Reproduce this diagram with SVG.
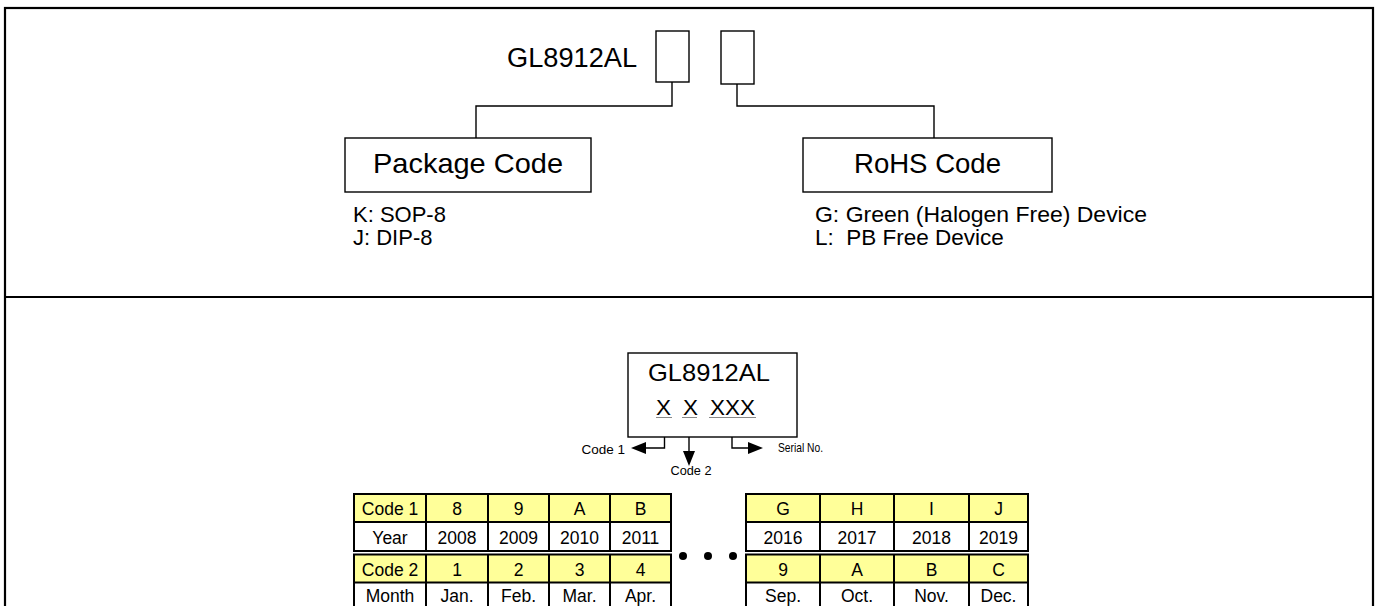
<svg xmlns="http://www.w3.org/2000/svg" width="1383" height="606" viewBox="0 0 1383 606">
<defs>
<style>
text{font-family:"Liberation Sans",Arial,sans-serif;fill:#000}
.box{fill:#fff;stroke:#000;stroke-width:1.4}
.ln{fill:none;stroke:#000;stroke-width:1.4}
.frame{fill:none;stroke:#000;stroke-width:2.2}
.tb{fill:none;stroke:#000;stroke-width:2}
.y{fill:#FFFF99}
.w{fill:#fff}
.ul{stroke:#888;stroke-width:1}
.c{text-anchor:middle;font-size:17.5px}
.s{font-size:13.5px}
.ah{fill:#000}
</style>
</defs>
<rect x="0" y="0" width="1383" height="606" fill="#fff"/>
<g id="frame">
<rect class="frame" x="5" y="8" width="1368" height="620"/>
<line class="frame" x1="5" y1="297" x2="1373" y2="297"/>
</g>

<g id="part-number">
<text x="507" y="67" font-size="27" textLength="130" lengthAdjust="spacingAndGlyphs">GL8912AL</text>
<rect class="box" x="656" y="31" width="33" height="51"/>
<rect class="box" x="721" y="31" width="33" height="53"/>
</g>

<g id="connectors">
<path class="ln" d="M672 82V106H476V138"/>
<path class="ln" d="M737 84V106H934V138"/>
<path class="ln" d="M664.5 417V448H645"/>
<polygon class="ah" points="631,448 646,442 646,454"/>
<path class="ln" d="M689 417V453"/>
<polygon class="ah" points="689,466 683,451 695,451"/>
<path class="ln" d="M732 417V448H750"/>
<polygon class="ah" points="763,448 748,442 748,454"/>
</g>

<g id="package-code">
<rect class="box" x="345" y="138" width="246" height="54"/>
<text x="468" y="173" font-size="28" text-anchor="middle" textLength="190" lengthAdjust="spacingAndGlyphs">Package Code</text>
<text x="353" y="221.5" font-size="22">K: SOP-8</text>
<text x="353" y="245" font-size="22">J: DIP-8</text>
</g>

<g id="rohs-code">
<rect class="box" x="803" y="138" width="249" height="54"/>
<text x="927.5" y="173" font-size="27.5" text-anchor="middle" textLength="147" lengthAdjust="spacingAndGlyphs">RoHS Code</text>
<text x="815" y="221.5" font-size="22.5" textLength="332" lengthAdjust="spacingAndGlyphs">G: Green (Halogen Free) Device</text>
<text x="815" y="245" font-size="22.5" xml:space="preserve">L:  PB Free Device</text>
</g>

<g id="marking">
<rect class="box" x="628" y="353" width="169" height="84"/>
<text x="648" y="381" font-size="24.5" textLength="122" lengthAdjust="spacingAndGlyphs">GL8912AL</text>
<text x="656" y="415" font-size="22.5">X</text>
<text x="683" y="415" font-size="22.5">X</text>
<text x="710" y="415" font-size="22.5" textLength="45" lengthAdjust="spacingAndGlyphs">XXX</text>
<line class="ul" x1="656" y1="417.5" x2="672" y2="417.5"/>
<line class="ul" x1="682" y1="417.5" x2="697" y2="417.5"/>
<line class="ul" x1="709" y1="417.5" x2="756" y2="417.5"/>
</g>

<g id="labels">
<text class="s" x="625" y="454" text-anchor="end">Code 1</text>
<text class="s" x="691" y="475" text-anchor="middle" textLength="41" lengthAdjust="spacingAndGlyphs">Code 2</text>
<text class="s" x="778" y="452" textLength="45" lengthAdjust="spacingAndGlyphs">Serial No.</text>
</g>

<g id="table-left">
<rect class="y" x="354" y="494" width="317" height="28"/>
<rect class="w" x="354" y="522" width="317" height="29"/>
<rect class="y" x="354" y="554.5" width="317" height="28"/>
<rect class="w" x="354" y="582.5" width="317" height="30"/>
<rect class="tb" x="354" y="494" width="317" height="57"/>
<rect class="tb" x="354" y="554.5" width="317" height="58"/>
<path class="tb" d="M354 522H671M354 582.5H671M426 494V551M488 494V551M549 494V551M610 494V551M426 554.5V612M488 554.5V612M549 554.5V612M610 554.5V612"/>
<text class="c" x="390" y="515">Code 1</text>
<text class="c" x="457" y="515">8</text>
<text class="c" x="518.5" y="515">9</text>
<text class="c" x="579.5" y="515">A</text>
<text class="c" x="640.5" y="515">B</text>
<text class="c" x="390" y="544">Year</text>
<text class="c" x="457" y="544">2008</text>
<text class="c" x="518.5" y="544">2009</text>
<text class="c" x="579.5" y="544">2010</text>
<text class="c" x="640.5" y="544">2011</text>
<text class="c" x="390" y="576">Code 2</text>
<text class="c" x="457" y="576">1</text>
<text class="c" x="518.5" y="576">2</text>
<text class="c" x="579.5" y="576">3</text>
<text class="c" x="640.5" y="576">4</text>
<text class="c" x="390" y="602">Month</text>
<text class="c" x="457" y="602">Jan.</text>
<text class="c" x="518.5" y="602">Feb.</text>
<text class="c" x="579.5" y="602">Mar.</text>
<text class="c" x="640.5" y="602">Apr.</text>
</g>

<g id="ellipsis">
<circle cx="683" cy="556" r="4"/>
<circle cx="708" cy="556" r="4"/>
<circle cx="733" cy="556" r="4"/>
</g>

<g id="table-right">
<rect class="y" x="746" y="494" width="282" height="28"/>
<rect class="w" x="746" y="522" width="282" height="29"/>
<rect class="y" x="746" y="554.5" width="282" height="28"/>
<rect class="w" x="746" y="582.5" width="282" height="30"/>
<rect class="tb" x="746" y="494" width="282" height="57"/>
<rect class="tb" x="746" y="554.5" width="282" height="58"/>
<path class="tb" d="M746 522H1028M746 582.5H1028M820 494V551M894 494V551M969 494V551M820 554.5V612M894 554.5V612M969 554.5V612"/>
<text class="c" x="783" y="515">G</text>
<text class="c" x="857" y="515">H</text>
<text class="c" x="931.5" y="515">I</text>
<text class="c" x="998.5" y="515">J</text>
<text class="c" x="783" y="544">2016</text>
<text class="c" x="857" y="544">2017</text>
<text class="c" x="931.5" y="544">2018</text>
<text class="c" x="998.5" y="544">2019</text>
<text class="c" x="783" y="576">9</text>
<text class="c" x="857" y="576">A</text>
<text class="c" x="931.5" y="576">B</text>
<text class="c" x="998.5" y="576">C</text>
<text class="c" x="783" y="602">Sep.</text>
<text class="c" x="857" y="602">Oct.</text>
<text class="c" x="931.5" y="602">Nov.</text>
<text class="c" x="998.5" y="602">Dec.</text>
</g>
</svg>
